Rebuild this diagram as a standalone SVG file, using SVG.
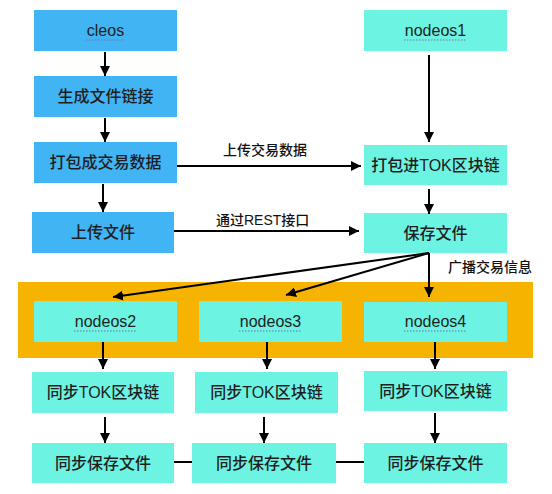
<svg xmlns="http://www.w3.org/2000/svg" width="552" height="494" viewBox="0 0 552 494">
<defs>
<marker id="ah" viewBox="0 0 10 10" refX="10" refY="5" markerWidth="10" markerHeight="10" markerUnits="userSpaceOnUse" orient="auto">
<path d="M0,0 L10,5 L0,10 z" fill="#000"/>
</marker>
<style>
.blue{fill:#41b4f3}
.cyan{fill:#6df3e2}
.t{font-family:"Liberation Sans","Noto Sans CJK SC",sans-serif;font-size:16px;font-weight:500;fill:#1e1e1e;text-anchor:middle;dominant-baseline:central}
.lbl{font-family:"Liberation Sans","Noto Sans CJK SC",sans-serif;font-size:14px;font-weight:500;fill:#111;text-anchor:start;dominant-baseline:central}
.c{stroke:#000;stroke-width:2;fill:none}
.a{stroke:#000;stroke-width:2;fill:none;marker-end:url(#ah)}
.u{stroke:#7a6fb0;stroke-width:1.2;stroke-dasharray:1.5 1.5}
</style>
</defs>
<rect width="552" height="494" fill="#fff"/>
<rect id="group-bg" x="18" y="282" width="515" height="76" fill="#f6b400"/>

<g id="cleos"><rect class="blue" x="34" y="10" width="143" height="41"/><text class="t" x="105.5" y="30">cleos</text><line class="u" x1="86" y1="40" x2="125" y2="40"/></g>
<g id="gen-link"><rect class="blue" x="34" y="76" width="143" height="41"/><text class="t" x="105.5" y="96.5">生成文件链接</text></g>
<g id="pack-tx"><rect class="blue" x="34" y="142" width="143" height="41"/><text class="t" x="105.5" y="162.5">打包成交易数据</text></g>
<g id="upload"><rect class="blue" x="32" y="212" width="142" height="41"/><text class="t" x="103" y="232.5">上传文件</text></g>

<g id="nodeos1"><rect class="cyan" x="364" y="10" width="143" height="41"/><text class="t" x="435.5" y="30">nodeos1</text><line class="u" x1="404" y1="40" x2="466" y2="40"/></g>
<g id="pack-tok"><rect class="cyan" x="364" y="145" width="143" height="40"/><text class="t" x="435.5" y="165">打包进TOK区块链</text></g>
<g id="save"><rect class="cyan" x="364" y="213" width="143" height="40"/><text class="t" x="435.5" y="233">保存文件</text></g>

<g id="nodeos2"><rect class="cyan" x="34" y="301" width="143" height="41"/><text class="t" x="105.5" y="321">nodeos2</text><line class="u" x1="74" y1="331" x2="137" y2="331"/></g>
<g id="nodeos3"><rect class="cyan" x="199" y="301" width="143" height="41"/><text class="t" x="270.5" y="321">nodeos3</text><line class="u" x1="239" y1="331" x2="302" y2="331"/></g>
<g id="nodeos4"><rect class="cyan" x="364" y="302" width="143" height="40"/><text class="t" x="435.5" y="321">nodeos4</text><line class="u" x1="404" y1="331" x2="467" y2="331"/></g>

<g id="sync-tok-2"><rect class="cyan" x="32" y="372" width="142" height="41"/><text class="t" x="103" y="392.5">同步TOK区块链</text></g>
<g id="sync-tok-3"><rect class="cyan" x="195" y="372" width="143" height="41"/><text class="t" x="266.5" y="392.5">同步TOK区块链</text></g>
<g id="sync-tok-4"><rect class="cyan" x="364" y="371" width="143" height="40"/><text class="t" x="435.5" y="391">同步TOK区块链</text></g>

<g id="sync-save-2"><rect class="cyan" x="32" y="443" width="142" height="40"/><text class="t" x="103" y="463">同步保存文件</text></g>
<g id="sync-save-3"><rect class="cyan" x="192" y="443" width="144" height="40"/><text class="t" x="264" y="463">同步保存文件</text></g>
<g id="sync-save-4"><rect class="cyan" x="364" y="443" width="143" height="40"/><text class="t" x="435.5" y="463">同步保存文件</text></g>

<g id="connectors">
<line class="a" x1="105" y1="52" x2="105" y2="76"/>
<line class="a" x1="105" y1="118" x2="105" y2="142"/>
<line class="a" x1="103" y1="184" x2="103" y2="212"/>
<line class="a" x1="177" y1="166" x2="361" y2="166"/>
<line class="a" x1="174" y1="231" x2="359" y2="231"/>
<line class="a" x1="429" y1="55" x2="429" y2="142"/>
<line class="a" x1="429" y1="189" x2="429" y2="214"/>
<line class="a" x1="429" y1="253" x2="113" y2="297"/>
<line class="a" x1="429" y1="253" x2="286" y2="295"/>
<line class="a" x1="429" y1="253" x2="429" y2="297"/>
<line class="a" x1="103" y1="342" x2="103" y2="369"/>
<line class="a" x1="267" y1="342" x2="267" y2="369"/>
<line class="a" x1="435" y1="342" x2="435" y2="369"/>
<line class="a" x1="105" y1="417" x2="105" y2="443"/>
<line class="a" x1="264" y1="417" x2="264" y2="443"/>
<line class="a" x1="435" y1="413" x2="435" y2="443"/>
<line class="c" x1="174" y1="462" x2="192" y2="462"/>
<line class="c" x1="336" y1="462" x2="364" y2="462"/>
<text class="lbl" x="223" y="150">上传交易数据</text>
<text class="lbl" x="216" y="220">通过REST接口</text>
<text class="lbl" x="448" y="267">广播交易信息</text>
</g>
</svg>
